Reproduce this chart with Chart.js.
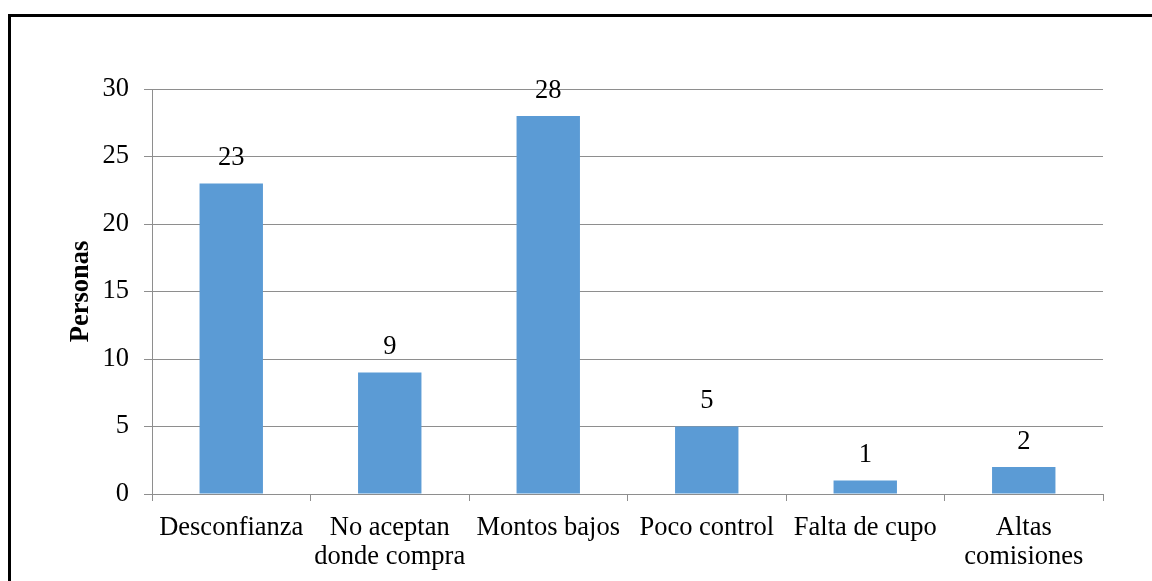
<!DOCTYPE html>
<html>
<head>
<meta charset="utf-8">
<script src="https://cdn.jsdelivr.net/npm/chart.js@4"></script>
<style>
  html, body { margin: 0; padding: 0; background: #fff; }
  #wrap { width: 1152px; height: 581px; }
</style>
</head>
<body>
<div id="wrap"><canvas id="myChart"></canvas></div>
<script>
const motivos = ["Desconfianza", ["No aceptan", "donde compra"], "Montos bajos", "Poco control", "Falta de cupo", ["Altas", "comisiones"]];
const personas = [23, 9, 28, 5, 1, 2];
const yTicks = [0, 5, 10, 15, 20, 25, 30];

const serif = "'Liberation Serif', 'Times New Roman', serif";

// black frame round the chart
const marco = {
  id: 'marco',
  afterDraw(chart) {
    const ctx = chart.ctx;
    ctx.save();
    ctx.fillStyle = '#000';
    ctx.fillRect(8, 14, chart.width, 3);
    ctx.fillRect(8, 14, 3, chart.height);
    ctx.restore();
  }
};

// value over each bar
const etiquetas = {
  id: 'etiquetas',
  afterDatasetsDraw(chart) {
    const ctx = chart.ctx;
    const meta = chart.getDatasetMeta(0);
    ctx.save();
    ctx.font = '26.5px ' + serif;
    ctx.fillStyle = '#000';
    ctx.textAlign = 'center';
    ctx.textBaseline = 'middle';
    meta.data.forEach((bar, i) => {
      ctx.fillText(String(personas[i]), bar.x, bar.y - 25);
    });
    ctx.restore();
  }
};

window.onload = function() {
  let chart = document.getElementById('myChart').getContext('2d');

  let myChart = new Chart(chart, {
    type: 'bar',
    data: {
      labels: motivos,
      datasets: [{
        label: 'Personas',
        data: personas,
        backgroundColor: '#5B9BD5',
        barPercentage: 0.4,
        categoryPercentage: 1.0
      }]
    },
    options: {
      responsive: true,
      maintainAspectRatio: false,
      animation: false,
      layout: { padding: { top: 89, right: 49, bottom: 0, left: 0 } },
      plugins: {
        legend: { display: false },
        tooltip: { enabled: false }
      },
      scales: {
        x: {
          grid: {
            drawOnChartArea: false,
            drawTicks: true,
            tickLength: 7,
            color: '#8e8e8e'
          },
          border: { color: '#8e8e8e' },
          ticks: {
            color: '#000',
            padding: 12,
            maxRotation: 0,
            autoSkip: false,
            font: { family: serif, size: 26.5, lineHeight: 1.1 }
          },
          afterFit(scale) { scale.height = 87; }
        },
        y: {
          min: 0,
          max: 30,
          afterBuildTicks(scale) { scale.ticks = yTicks.map(v => ({ value: v })); },
          grid: { color: '#8e8e8e', tickLength: 8 },
          border: { color: '#8e8e8e' },
          ticks: {
            color: '#000',
            padding: 15,
            font: { family: serif, size: 26.5 }
          },
          title: {
            display: true,
            text: 'Personas',
            color: '#000',
            padding: { top: 65, bottom: 0 },
            font: { family: serif, size: 26.5, weight: 'bold', lineHeight: 1.2 }
          },
          afterFit(scale) { scale.width = 152; }
        }
      }
    },
    plugins: [marco, etiquetas]
  });
};
</script>
</body>
</html>
